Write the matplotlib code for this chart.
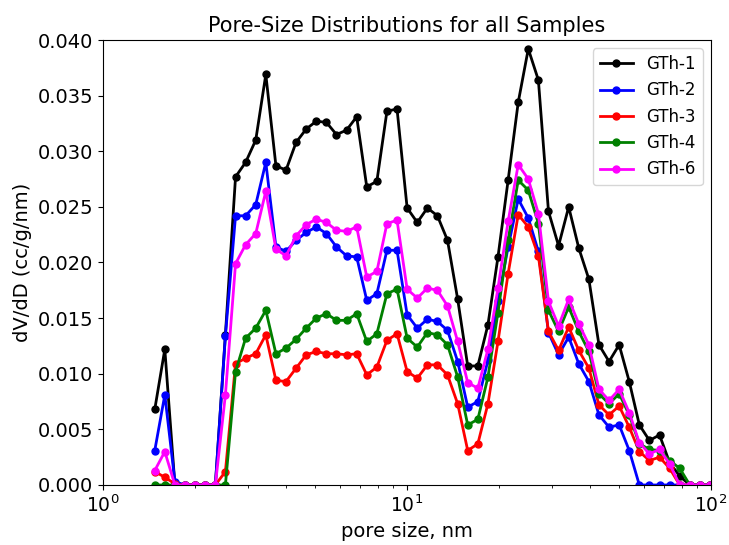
"""Pore-size distribution (dV/dD vs pore width) for the GTh samples."""

import matplotlib

matplotlib.use("Agg")
import matplotlib.pyplot as plt  # noqa: E402
from matplotlib.ticker import FormatStrFormatter  # noqa: E402

# pore widths (nm), log-spaced kernel
PORE_SIZE = [
    1.480, 1.597, 1.724, 1.861, 2.009, 2.169, 2.342, 2.527, 2.729, 2.945,
    3.180, 3.432, 3.705, 3.999, 4.317, 4.661, 5.030, 5.430, 5.861, 6.327,
    6.830, 7.373, 7.959, 8.591, 9.273, 10.01, 10.81, 11.67, 12.59, 13.59,
    14.68, 15.84, 17.10, 18.46, 19.92, 21.51, 23.22, 25.06, 27.05, 29.20,
    31.52, 34.03, 36.73, 39.65, 42.80, 46.20, 49.88, 53.84, 58.12, 62.74,
    67.72, 73.10, 78.91, 85.18, 91.95, 99.26,
]

GTH_1 = [
    0.0068, 0.0122, 0.0, 0.0, 0.0, 0.0, 0.0, 0.0135, 0.0277, 0.0290,
    0.0310, 0.0369, 0.0287, 0.0283, 0.0308, 0.0320, 0.0327, 0.0326, 0.0315, 0.0319,
    0.0331, 0.0268, 0.0273, 0.0336, 0.0338, 0.0249, 0.0236, 0.0249, 0.0242, 0.0220,
    0.0167, 0.0107, 0.0107, 0.0144, 0.0205, 0.0274, 0.0344, 0.0392, 0.0364, 0.0246,
    0.0215, 0.0250, 0.0213, 0.0185, 0.0126, 0.0111, 0.0126, 0.0093, 0.0054, 0.0040,
    0.0045, 0.0020, 0.0008, 0.0, 0.0, 0.0,
]
GTH_2 = [
    0.0031, 0.0081, 0.0003, 0.0, 0.0, 0.0, 0.0, 0.0134, 0.0242, 0.0242,
    0.0252, 0.0290, 0.0214, 0.0210, 0.0220, 0.0227, 0.0232, 0.0226, 0.0214, 0.0206,
    0.0205, 0.0166, 0.0172, 0.0211, 0.0211, 0.0153, 0.0141, 0.0149, 0.0147, 0.0139,
    0.0111, 0.0070, 0.0075, 0.0112, 0.0165, 0.0214, 0.0257, 0.0240, 0.0210, 0.0137,
    0.0117, 0.0133, 0.0109, 0.0093, 0.0063, 0.0052, 0.0054, 0.0031, 0.0, 0.0,
    0.0, 0.0, 0.0, 0.0, 0.0, 0.0,
]
GTH_3 = [
    0.0012, 0.0007, 0.0001, 0.0, 0.0, 0.0, 0.0, 0.0012, 0.0109, 0.0114,
    0.0118, 0.0135, 0.0094, 0.0093, 0.0105, 0.0117, 0.0120, 0.0118, 0.0118, 0.0117,
    0.0118, 0.0099, 0.0106, 0.0130, 0.0136, 0.0102, 0.0096, 0.0108, 0.0108, 0.0099,
    0.0073, 0.0031, 0.0037, 0.0073, 0.0129, 0.0190, 0.0243, 0.0232, 0.0206, 0.0138,
    0.0121, 0.0142, 0.0121, 0.0105, 0.0072, 0.0063, 0.0071, 0.0052, 0.0030, 0.0022,
    0.0025, 0.0015, 0.0, 0.0, 0.0, 0.0,
]
GTH_4 = [
    0.0, 0.0, 0.0, 0.0, 0.0, 0.0, 0.0, 0.0, 0.0102, 0.0132,
    0.0141, 0.0157, 0.0118, 0.0123, 0.0131, 0.0141, 0.0150, 0.0154, 0.0148, 0.0148,
    0.0154, 0.0129, 0.0136, 0.0172, 0.0176, 0.0132, 0.0124, 0.0137, 0.0135, 0.0126,
    0.0097, 0.0054, 0.0059, 0.0097, 0.0155, 0.0220, 0.0274, 0.0265, 0.0235, 0.0157,
    0.0138, 0.0160, 0.0138, 0.0120, 0.0082, 0.0073, 0.0082, 0.0063, 0.0037, 0.0032,
    0.0031, 0.0022, 0.0015, 0.0, 0.0, 0.0,
]
GTH_6 = [
    0.0013, 0.0030, 0.0, 0.0, 0.0, 0.0, 0.0, 0.0081, 0.0199, 0.0216,
    0.0226, 0.0264, 0.0212, 0.0206, 0.0224, 0.0234, 0.0239, 0.0236, 0.0229, 0.0228,
    0.0232, 0.0187, 0.0192, 0.0235, 0.0238, 0.0176, 0.0168, 0.0177, 0.0175, 0.0161,
    0.0129, 0.0092, 0.0087, 0.0122, 0.0177, 0.0237, 0.0288, 0.0275, 0.0244, 0.0165,
    0.0143, 0.0167, 0.0145, 0.0126, 0.0086, 0.0076, 0.0086, 0.0065, 0.0038, 0.0028,
    0.0032, 0.0019, 0.0, 0.0, 0.0, 0.0,
]

SAMPLES = ["GTh-1", "GTh-2", "GTh-3", "GTh-4", "GTh-6"]
COLORS = ["black", "blue", "red", "green", "magenta"]


def main() -> None:
    fig = plt.figure(figsize=(7.29, 5.45), dpi=100)
    ax = fig.add_axes([0.1413, 0.1101, 0.8340, 0.8165])
    for label, ys, c in zip(SAMPLES, [GTH_1, GTH_2, GTH_3, GTH_4, GTH_6], COLORS):
        ax.plot(PORE_SIZE, ys, "-o", color=c, lw=2, ms=5, label=label)
    ax.set_xscale("log")
    ax.set_xlim(1, 100)
    ax.set_ylim(0, 0.040)
    ax.yaxis.set_major_formatter(FormatStrFormatter("%.3f"))
    ax.tick_params(labelsize=14)
    ax.tick_params(axis="x", labelsize=13.5)
    ax.set_xlabel("pore size, nm", fontsize=14)
    ax.set_ylabel("dV/dD (cc/g/nm)", fontsize=14)
    ax.set_title("Pore-Size Distributions for all Samples", fontsize=15)
    ax.legend(loc="upper right", fontsize=12)
    fig.savefig("out.png", dpi=100)


if __name__ == "__main__":
    main()
